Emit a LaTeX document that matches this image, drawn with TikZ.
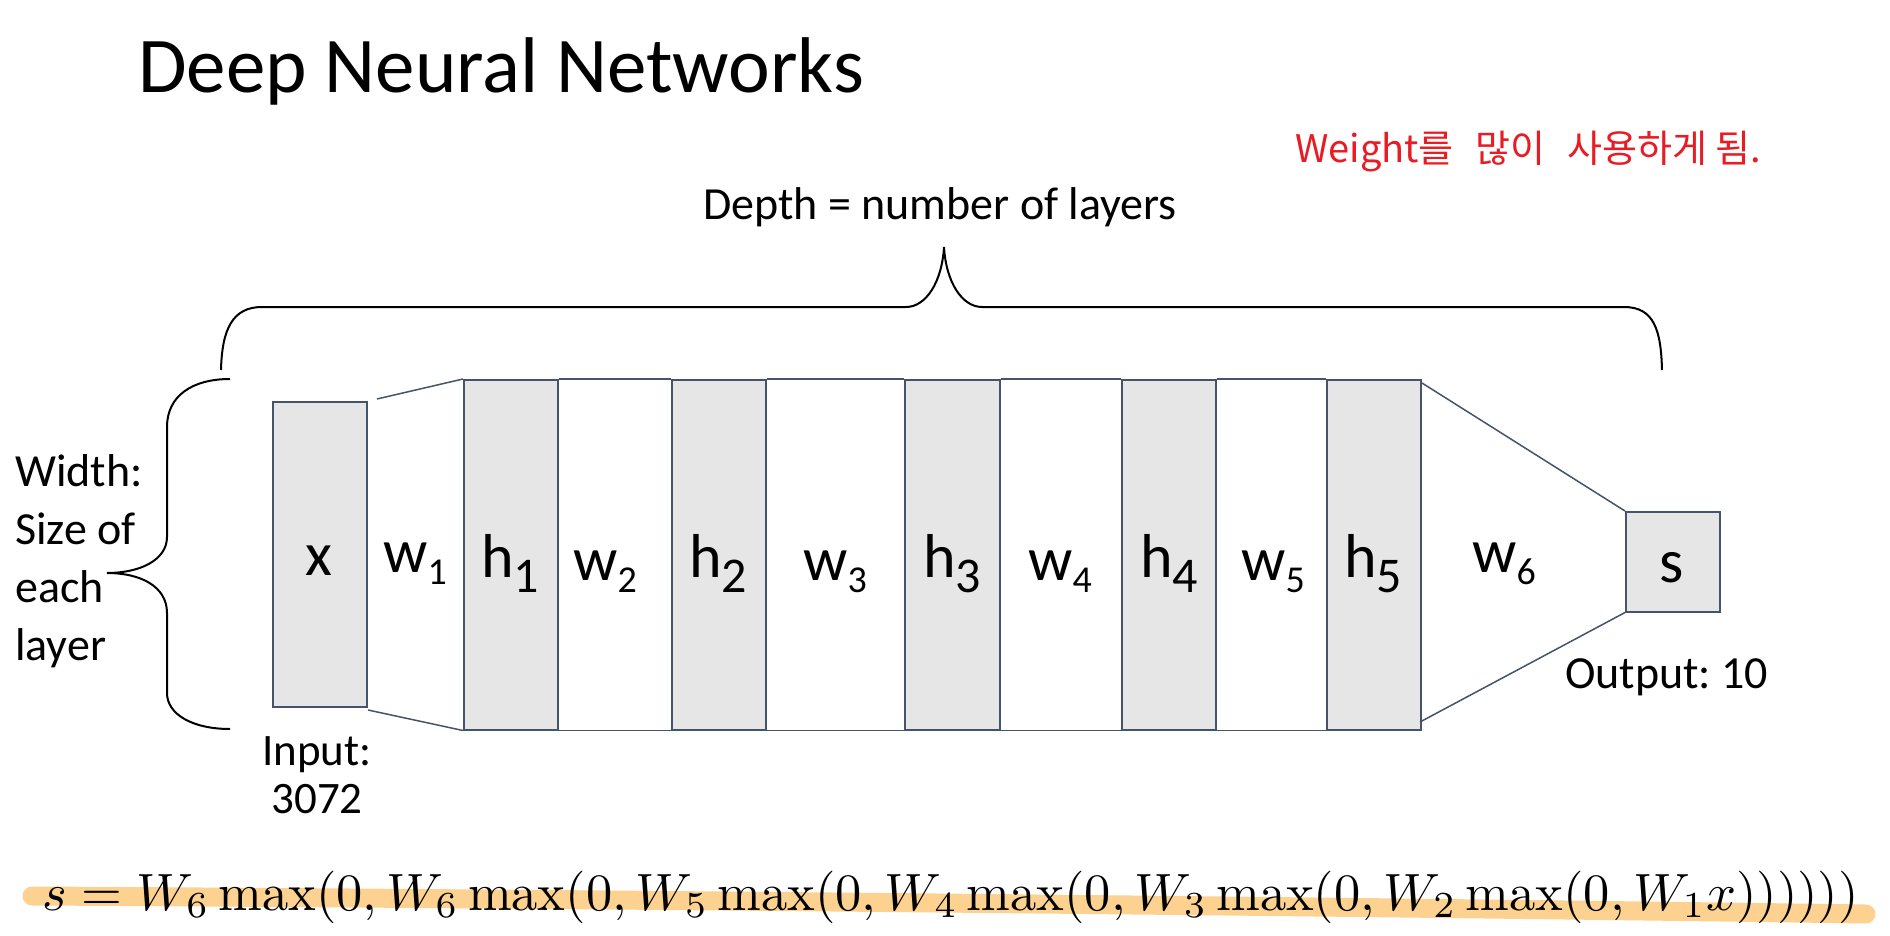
\documentclass[tikz,border=0pt]{standalone}
\usepackage{fontspec}
\usepackage{graphicx}
\newfontfamily\calb{Carlito}
\newfontfamily\korfont{Noto Sans CJK KR}
\definecolor{lc}{RGB}{68,84,106}
\definecolor{lg}{RGB}{231,230,230}
\definecolor{hlc}{RGB}{253,210,145}
\definecolor{inkred}{RGB}{232,28,36}
\newcommand\hlab[2]{\fontsize{62}{62}\selectfont #1\raisebox{-15pt}{\fontsize{50}{50}\selectfont #2}}
\newcommand\wlab[1]{\fontsize{62}{62}\selectfont w\raisebox{-12pt}{\fontsize{38}{38}\selectfont #1}}
\frenchspacing
\begin{document}
\begin{tikzpicture}[x=1pt,y=-1pt,
  layerbox/.style={draw=lc, fill=lg, line width=1.5pt, inner sep=0pt, anchor=north west, minimum width=94pt, minimum height=350pt},
  conn/.style={draw=lc, line width=1.5pt},
  brace/.style={draw=black, line width=2pt},
  lbl/.style={inner sep=0pt, anchor=base, font=\calb},
  txt/.style={inner sep=0pt, font=\calb}]
\useasboundingbox (0,0) rectangle (1890,936);
\fill[white] (0,0) rectangle (1890,936);

% title
\node[txt, anchor=base west, font=\calb\fontsize{79}{79}\selectfont] (title) at (138,93) {Deep Neural Networks};

% handwritten note
\node[inner sep=0pt, anchor=base west, text=inkred, font=\korfont\fontsize{38}{38}\selectfont] (note) at (1295,163) {Weight를\hspace{22pt}많이\hspace{22pt}사용하게\hspace{8pt}됨.};

% depth label and brace
\node[txt, anchor=base, font=\calb\fontsize{46}{46}\selectfont] (depth) at (940,219) {Depth = number of layers};
\coordinate (tl) at (221,370);
\coordinate (tr) at (1662,370);
\coordinate (tip) at (944,247);
\draw[brace] (tl) .. controls (222,330) and (232,307) .. (262,307) -- (906,307)
  .. controls (926,307) and (942,282) .. (tip)
  .. controls (946,282) and (962,307) .. (982,307) -- (1624,307)
  .. controls (1654,307) and (1661,330) .. (tr);

% width brace and label
\coordinate (lt) at (230,379);
\coordinate (lb) at (230,729);
\coordinate (ltip) at (107,573);
\draw[brace] (lt) .. controls (192,379) and (167,396) .. (167,427) -- (167,537)
  .. controls (167,560) and (140,573) .. (ltip)
  .. controls (140,573) and (167,586) .. (167,613) -- (167,693)
  .. controls (167,714) and (192,729) .. (lb);
\node[txt, anchor=base west, align=left, font=\calb\fontsize{46}{57.7}\selectfont] (width) at (15,660) {Width:\\Size of\\each\\layer};

% boxes
\node[layerbox, minimum height=305pt] (xb) at (272,401) {};
\node[layerbox] (h1) at (463,379) {};
\node[layerbox] (h2) at (671,379) {};
\node[layerbox, minimum width=95pt] (h3) at (904,379) {};
\node[layerbox] (h4) at (1121,379) {};
\node[layerbox] (h5) at (1326,379) {};
\node[layerbox, minimum height=100pt] (sb) at (1625,511) {};

% connectors
\coordinate (a1) at (377,399);
\coordinate (a2) at (368,710);
\coordinate (b1) at (1422,383);
\coordinate (b2) at (1420,722);
\draw[conn] (a1) -- (h1.north west);
\draw[conn] (a2) -- (h1.south west);
\draw[conn] (h1.north east) -- (h2.north west);
\draw[conn] (h1.south east) -- (h2.south west);
\draw[conn] (h2.north east) -- (h3.north west);
\draw[conn] (h2.south east) -- (h3.south west);
\draw[conn] (h3.north east) -- (h4.north west);
\draw[conn] (h3.south east) -- (h4.south west);
\draw[conn] (h4.north east) -- (h5.north west);
\draw[conn] (h4.south east) -- (h5.south west);
\draw[conn] (b1) -- (sb.north west);
\draw[conn] (b2) -- (sb.south west);

% labels
\node[lbl, font=\calb\fontsize{62}{62}\selectfont] (lx) at (319,575) {x};
\node[lbl] (lw1) at (415,572) {\wlab{1}};
\node[lbl] (lh1) at (510,577) {\hlab{h}{1}};
\node[lbl] (lw2) at (605,580) {\wlab{2}};
\node[lbl] (lh2) at (718,577) {\hlab{h}{2}};
\node[lbl] (lw3) at (835,580) {\wlab{3}};
\node[lbl] (lh3) at (952,577) {\hlab{h}{3}};
\node[lbl] (lw4) at (1060,580) {\wlab{4}};
\node[lbl] (lh4) at (1169,577) {\hlab{h}{4}};
\node[lbl] (lw5) at (1273,580) {\wlab{5}};
\node[lbl] (lh5) at (1373,577) {\hlab{h}{5}};
\node[lbl] (lw6) at (1504,572) {\wlab{6}};
\node[lbl, font=\calb\fontsize{62}{62}\selectfont] (ls) at (1672,582) {s};

\node[txt, anchor=base, align=center, font=\calb\fontsize{45}{48}\selectfont] (input) at (317,813) {Input:\\3072};
\node[txt, anchor=base west, font=\calb\fontsize{46}{46}\selectfont] (output) at (1565,688) {Output: 10};

% formula with highlighter
\coordinate (hs) at (32,896);
\coordinate (he) at (1866,914);
\draw[hlc, line width=19pt, line cap=round] (hs) .. controls (600,899) and (1300,906) .. (he);
\node[inner sep=0pt, anchor=base west] (formula) at (42,910) {\resizebox{1816pt}{!}{$s = W_6 \max(0, W_6 \max(0, W_5 \max(0, W_4 \max(0, W_3 \max(0, W_2 \max(0, W_1 x))))))$}};
\end{tikzpicture}
\end{document}
